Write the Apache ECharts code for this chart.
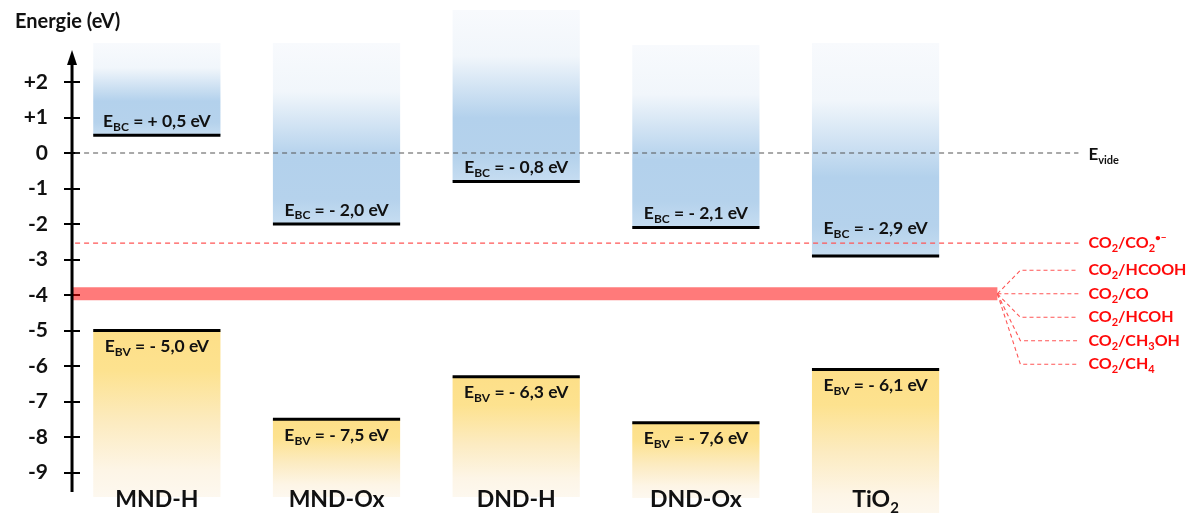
<!DOCTYPE html>
<html><head><meta charset="utf-8">
<script src="https://cdn.jsdelivr.net/npm/echarts@6/dist/echarts.min.js"></script>
<style>html,body{margin:0;padding:0;background:#fff}#c{width:1190px;height:513px}</style>
</head><body><div id="c"></div>
<script>
// ---- data ----
const categories = ['MND-H', 'MND-Ox', 'DND-H', 'DND-Ox', 'TiO2'];
const ebc = [0.5, -2.0, -0.8, -2.1, -2.9];          // conduction band (eV)
const ebv = [-5.0, -7.5, -6.3, -7.6, -6.1];         // valence band (eV)
const bcTop = [3.1, 3.1, 4.03, 3.04, 3.1];          // top of drawn CB block
const bvBottom = [-9.69, -9.69, -9.69, -9.72, -10.3]; // bottom of drawn VB block
const yTicks = [2, 1, 0, -1, -2, -3, -4, -5, -6, -7, -8, -9];
const vacuumLevel = 0;
const co2RadicalLevel = -2.54;
const co2Band = [-3.78, -4.15];
const co2Couples = ['CO2/HCOOH', 'CO2/CO', 'CO2/HCOH', 'CO2/CH3OH', 'CO2/CH4'];

// ---- layout constants ----
const X_MIN = -0.5, X_MAX = 5.75, Y_MIN = -10.14, Y_MAX = 4.31;
const BAR_HALF = 0.354;
const AXIS_X = -0.472, AXIS_BOTTOM = -9.55, AXIS_TOP = 2.9;
const LINE_START = -0.455, LINE_END = 5.129, BAND_START = -0.467, BAND_END = 4.678, FAN_BEND = 4.806, LABEL_X = 5.185;
const FONT = 'Lato';

const chart = echarts.init(document.getElementById('c'));

function fmt(v) { return (v >= 0 ? '+ ' : '- ') + Math.abs(v).toFixed(1).replace('.', ','); }
function chem(s, m, sub) {
  return s.split(/(\d)/).filter(t => t !== '').map(t => /\d/.test(t) ? '{' + sub + '|' + t + '}' : '{' + m + '|' + t + '}').join('');
}

const barRich = {
  m: { fontSize: 17.5, fontWeight: 'bold', fontFamily: FONT, fill: '#111' },
  s: { fontSize: 12, fontWeight: 'bold', fontFamily: FONT, fill: '#111', padding: [11, 0, 0, 0] }
};
const catRich = {
  c: { fontSize: 23, fontWeight: 'bold', fontFamily: FONT, fill: '#111' },
  cs: { fontSize: 15, fontWeight: 'bold', fontFamily: FONT, fill: '#111', padding: [16, 0, 0, 0] }
};
const redRich = {
  r: { fontSize: 16, fontWeight: 'bold', fontFamily: FONT, fill: '#ff0a0a' },
  rs: { fontSize: 11, fontWeight: 'bold', fontFamily: FONT, fill: '#ff0a0a', padding: [11, 0, 0, 0] },
  rp: { fontSize: 10, fontWeight: 'bold', fontFamily: FONT, fill: '#ff0a0a', padding: [0, 0, 10, 0] }
};

function blueGrad() {
  return new echarts.graphic.LinearGradient(0, 0, 0, 1, [
    { offset: 0, color: '#f8fafd' }, { offset: 0.27, color: '#f1f6fb' },
    { offset: 0.63, color: '#b3d1ec' }, { offset: 0.86, color: '#b5d2ec' }, { offset: 1, color: '#c6ddf1' }]);
}
function yellowGrad() {
  return new echarts.graphic.LinearGradient(0, 0, 0, 1, [
    { offset: 0, color: '#fddf88' }, { offset: 0.24, color: '#fde28f' },
    { offset: 0.55, color: '#fcebc0' }, { offset: 0.84, color: '#fdf5e6' }, { offset: 1, color: '#fdf8ef' }]);
}

function renderBars(params, api) {
  const i = api.value(0), cb = api.value(1), vb = api.value(2), top = api.value(3), bot = api.value(4);
  const a = api.coord([i - BAR_HALF, top]), b = api.coord([i + BAR_HALF, cb]);
  const c = api.coord([i - BAR_HALF, vb]), d = api.coord([i + BAR_HALF, bot]);
  const cx = api.coord([i, 0])[0];
  let cbLabelY = b[1] - 14;
  const radY = api.coord([i, co2RadicalLevel])[1];
  if (Math.abs(cbLabelY - radY) < 14) cbLabelY = radY - 15;
  const name = categories[i];
  return {
    type: 'group', children: [
      { type: 'rect', shape: { x: a[0], y: a[1], width: b[0] - a[0], height: b[1] - a[1] }, style: { fill: blueGrad() } },
      { type: 'rect', shape: { x: c[0], y: c[1], width: d[0] - c[0], height: d[1] - c[1] }, style: { fill: yellowGrad() } },
      { type: 'line', shape: { x1: a[0], y1: b[1], x2: b[0], y2: b[1] }, style: { stroke: '#000', lineWidth: 3 } },
      { type: 'line', shape: { x1: c[0], y1: c[1], x2: d[0], y2: c[1] }, style: { stroke: '#000', lineWidth: 3 } },
      { type: 'text', z2: 10, style: { x: cx, y: cbLabelY, align: 'center', verticalAlign: 'middle', text: '{m|E}{s|BC}{m| = ' + fmt(cb) + ' eV}', rich: barRich } },
      { type: 'text', z2: 10, style: { x: cx, y: c[1] + 16, align: 'center', verticalAlign: 'middle', text: '{m|E}{s|BV}{m| = ' + fmt(vb) + ' eV}', rich: barRich } },
      { type: 'text', z2: 10, style: { x: cx, y: api.coord([i, -9.77])[1], align: 'center', verticalAlign: 'middle', text: chem(name, 'c', 'cs'), rich: catRich } }
    ]
  };
}

function renderRefs(params, api) {
  const ch = [];
  // vacuum level
  const v0 = api.coord([LINE_START, vacuumLevel]), v1 = api.coord([LINE_END, vacuumLevel]);
  ch.push({ type: 'line', shape: { x1: v0[0], y1: v0[1], x2: v1[0], y2: v1[1] }, style: { stroke: '#555', lineWidth: 1.2, lineDash: [5, 4] } });
  const lx = api.coord([LABEL_X, 0])[0];
  ch.push({ type: 'text', style: { x: lx, y: v0[1] + 2, align: 'left', verticalAlign: 'middle', text: '{e|E}{es|vide}', rich: {
    e: { fontSize: 17, fontWeight: 'bold', fontFamily: FONT, fill: '#111' },
    es: { fontSize: 11, fontWeight: 'bold', fontFamily: FONT, fill: '#111', padding: [10, 0, 0, 0] } } } });
  // CO2/CO2.- level
  const r0 = api.coord([LINE_START, co2RadicalLevel]), r1 = api.coord([LINE_END, co2RadicalLevel]);
  ch.push({ type: 'line', shape: { x1: r0[0], y1: r0[1], x2: r1[0], y2: r1[1] }, style: { stroke: '#ff5555', lineWidth: 1.2, lineDash: [5, 4] } });
  ch.push({ type: 'text', style: { x: lx, y: r0[1], align: 'left', verticalAlign: 'middle', text: '{r|CO}{rs|2}{r|/CO}{rs|2}{rp|•−}', rich: redRich } });
  // CO2 reduction band
  const b0 = api.coord([BAND_START, co2Band[0]]), b1 = api.coord([BAND_END, co2Band[1]]);
  ch.push({ type: 'rect', shape: { x: b0[0], y: b0[1], width: b1[0] - b0[0], height: b1[1] - b0[1] }, style: { fill: 'rgba(255,0,0,0.52)' } });
  const midY = (b0[1] + b1[1]) / 2;
  const bend = api.coord([FAN_BEND, 0])[0], end = api.coord([LINE_END, 0])[0];
  co2Couples.forEach((name, k) => {
    const y = midY + (k - 1) * 23.5;
    ch.push({ type: 'polyline', shape: { points: [[b1[0], midY], [bend, y], [end, y]] }, style: { stroke: '#ff5555', lineWidth: 1.1, lineDash: [4, 3], fill: null } });
    ch.push({ type: 'text', style: { x: lx, y: y, align: 'left', verticalAlign: 'middle', text: chem(name, 'r', 'rs'), rich: redRich } });
  });
  // vertical energy axis with arrow
  const ab = api.coord([AXIS_X, AXIS_BOTTOM]), at = api.coord([AXIS_X, AXIS_TOP]);
  ch.push({ type: 'line', shape: { x1: ab[0], y1: ab[1], x2: at[0], y2: at[1] + 12 }, style: { stroke: '#000', lineWidth: 3 } });
  ch.push({ type: 'polygon', shape: { points: [[at[0], at[1]], [at[0] - 5, at[1] + 15], [at[0] + 5, at[1] + 15]] }, style: { fill: '#000' } });
  return { type: 'group', children: ch };
}

chart.setOption({
  animation: false,
  backgroundColor: '#fff',
  title: { text: 'Energie (eV)', left: 10, top: 7, textStyle: { fontFamily: FONT, fontWeight: 'bold', fontSize: 20, color: '#111' } },
  grid: { left: 67, right: 0, top: 0, bottom: 0 },
  xAxis: { type: 'value', min: X_MIN, max: X_MAX, show: false },
  yAxis: {
    type: 'value', min: Y_MIN, max: Y_MAX, offset: -13,
    axisLine: { show: false, onZero: false }, splitLine: { show: false },
    axisTick: { show: true, customValues: yTicks, length: 16, lineStyle: { color: '#000', width: 2 } },
    axisLabel: { customValues: yTicks, margin: 32, fontFamily: FONT, fontWeight: 'bold', fontSize: 21, color: '#111',
      formatter: v => (v > 0 ? '+' + v : String(v)) }
  },
  series: [
    { type: 'custom', renderItem: renderBars, clip: false, z: 2,
      data: categories.map((c, i) => [i, ebc[i], ebv[i], bcTop[i], bvBottom[i]]) },
    { type: 'custom', renderItem: renderRefs, clip: false, z: 3, data: [[0, 0]] }
  ]
});
</script></body></html>
